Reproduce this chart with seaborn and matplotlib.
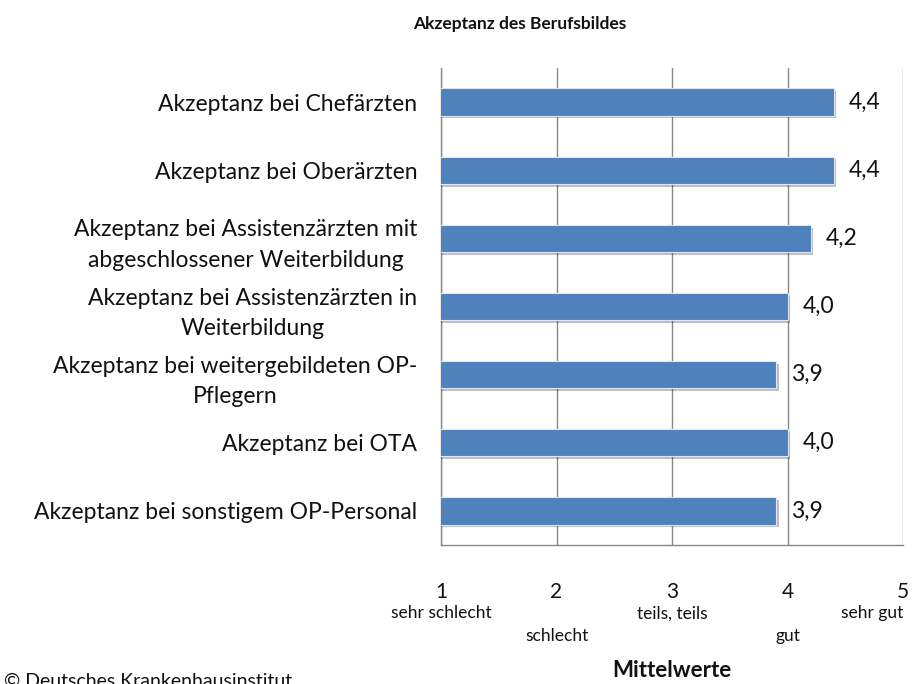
import matplotlib
matplotlib.use("Agg")
import matplotlib.pyplot as plt
import matplotlib.patheffects as pe
import matplotlib.transforms as mtransforms
import pandas as pd
import seaborn as sns

# ── Data ────────────────────────────────────────────────────────────────────
categories = [
    "Akzeptanz bei Chefärzten",
    "Akzeptanz bei Oberärzten",
    "Akzeptanz bei Assistenzärzten mit\nabgeschlossener Weiterbildung",
    "Akzeptanz bei Assistenzärzten in\nWeiterbildung",
    "Akzeptanz bei weitergebildeten OP-\nPflegern",
    "Akzeptanz bei OTA",
    "Akzeptanz bei sonstigem OP-Personal",
]
values = [4.4, 4.4, 4.2, 4.0, 3.9, 4.0, 3.9]
tick_values = [1, 2, 3, 4, 5]
tick_words = ["sehr schlecht", "schlecht", "teils, teils", "gut", "sehr gut"]

# ── Styling ─────────────────────────────────────────────────────────────────
sns.set_style("white")
plt.rcParams["font.family"] = ["Lato", "DejaVu Sans"]

BAR_COLOR = "#4F81BD"
GRID_COLOR = "#888888"
TEXT_COLOR = "#111111"

df = pd.DataFrame({"Kategorie": categories, "Mittelwert": values})

fig = plt.figure(figsize=(9.18, 6.84), dpi=100)
ax = fig.add_axes([441 / 918, 1 - 545 / 684, 462 / 918, 477 / 684])

sns.barplot(
    data=df, x="Mittelwert", y="Kategorie", orient="h",
    color=BAR_COLOR, saturation=1, width=0.4, ax=ax,
    edgecolor="#DCE6F2", linewidth=0.8, zorder=3,
)
for bar in ax.patches:
    bar.set_path_effects([
        pe.SimplePatchShadow(offset=(2, -2), alpha=0.25, shadow_rgbFace="black"),
        pe.Normal(),
    ])

ax.set_xlim(1, 5)
ax.set_ylim(len(categories) - 0.5, -0.5)

# Value labels
for i, v in enumerate(values):
    ax.annotate(f"{v:.1f}".replace(".", ","), xy=(v, i), xytext=(11, 0),
                textcoords="offset points", ha="left", va="center",
                fontsize=16.5, color=TEXT_COLOR)

# Grid / spines
ax.set_xticks(tick_values)
ax.xaxis.grid(True, color=GRID_COLOR, lw=1, zorder=0)
ax.yaxis.grid(False)
for side in ["top", "right"]:
    ax.spines[side].set_visible(False)
for side in ["left", "bottom"]:
    ax.spines[side].set_color(GRID_COLOR)
    ax.spines[side].set_linewidth(1)

ax.tick_params(axis="x", direction="out", length=6, width=1, color=GRID_COLOR,
               pad=21, labelsize=15, labelcolor=TEXT_COLOR)
ax.tick_params(axis="y", length=0, pad=17, labelsize=16.5, labelcolor=TEXT_COLOR)
ax.set_xticklabels([str(t) for t in tick_values])
ax.set_yticks(range(len(categories)))
ax.set_yticklabels(categories, linespacing=1.55, multialignment="center")

# Verbal anchors under the tick numbers (staggered)
trans = mtransforms.blended_transform_factory(ax.transData, ax.transAxes)
for i, (t, w) in enumerate(zip(tick_values, tick_words)):
    y = -0.143 if i % 2 == 0 else -0.191
    ha = "right" if t == tick_values[-1] else "center"
    ax.text(t, y, w, transform=trans, ha=ha, va="center",
            fontsize=12.5, color=TEXT_COLOR, clip_on=False)

ax.set_ylabel("")
ax.set_xlabel("Mittelwerte", fontsize=16, fontweight="bold", color=TEXT_COLOR)
ax.xaxis.set_label_coords(0.5, -0.264)
ax.xaxis.label.set_va("center")

fig.text(520 / 918, 1 - 24 / 684, "Akzeptanz des Berufsbildes",
         ha="center", va="center", fontsize=12.5, fontweight="bold", color=TEXT_COLOR)
fig.text(4 / 918, -3 / 684, "© Deutsches Krankenhausinstitut",
         ha="left", va="baseline", fontsize=14, color=TEXT_COLOR)

fig.savefig("out.png", dpi=100)
plt.close(fig)
